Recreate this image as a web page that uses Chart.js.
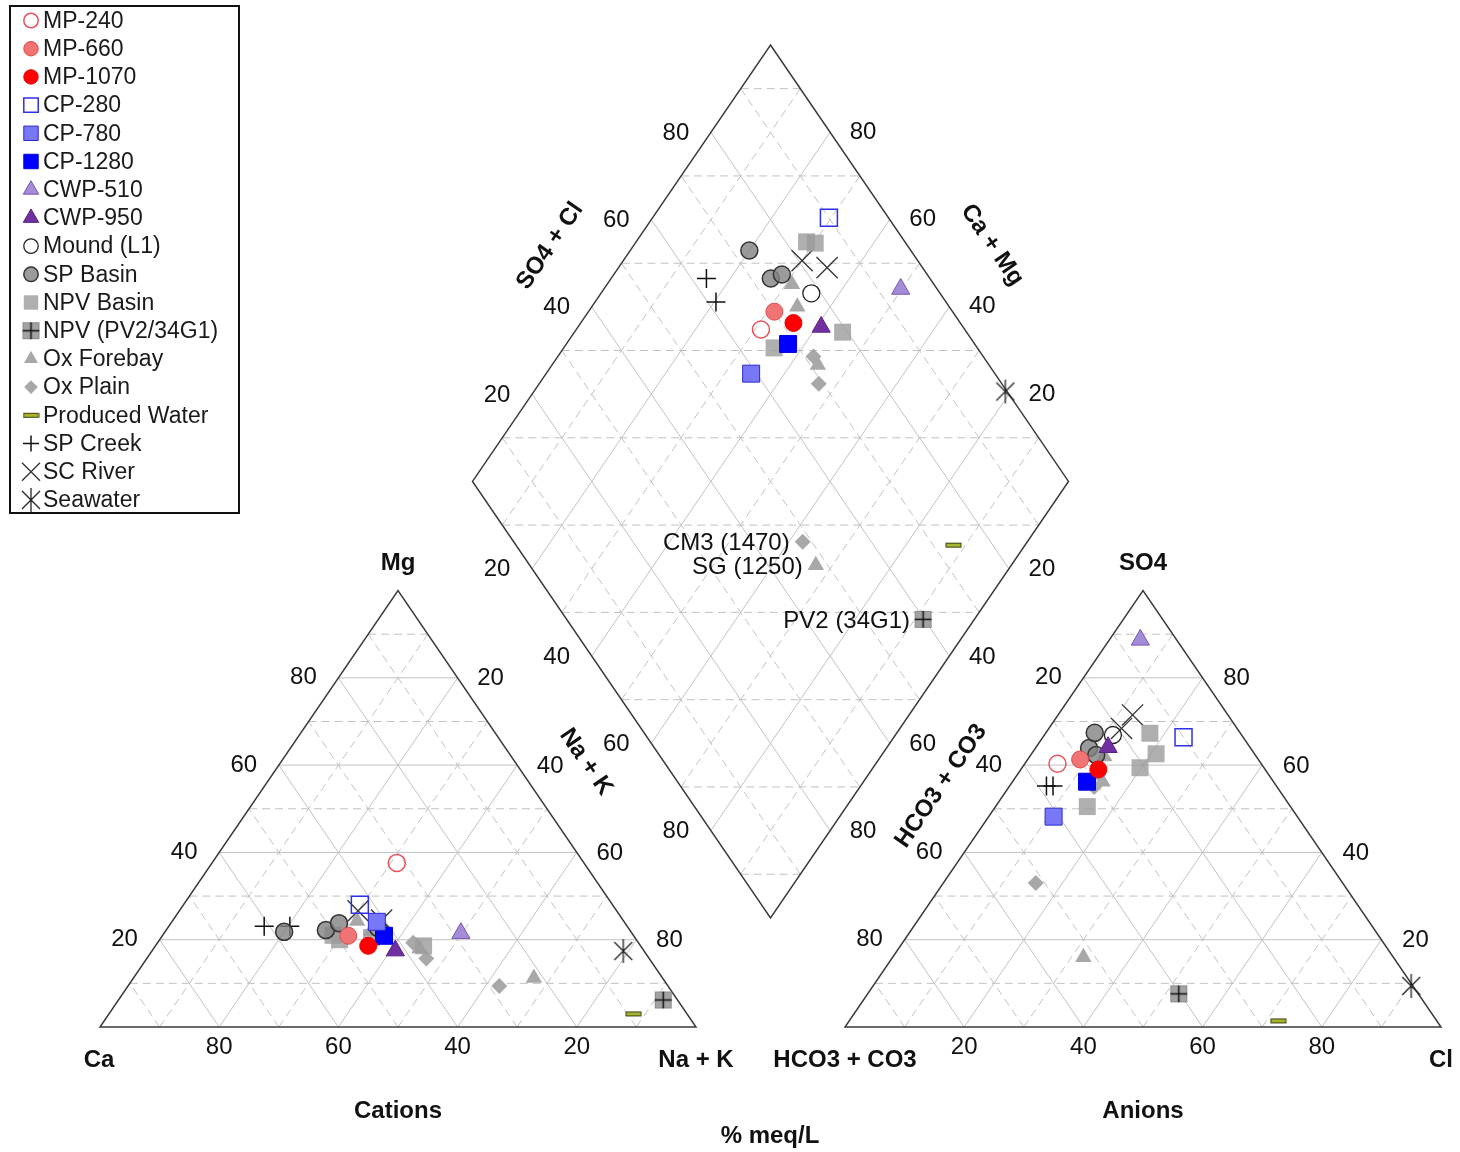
<!DOCTYPE html>
<html>
<head>
<meta charset="utf-8">
<script src="https://cdn.jsdelivr.net/npm/chart.js@4.4.1/dist/chart.umd.min.js"></script>
<style>html,body{margin:0;padding:0;background:#fff}</style>
</head>
<body>
<canvas id="piper" width="1460" height="1152"></canvas>
<script>
// legend order
const seriesNames = ['MP-240', 'MP-660', 'MP-1070', 'CP-280', 'CP-780', 'CP-1280', 'CWP-510', 'CWP-950',
  'Mound (L1)', 'SP Basin', 'NPV Basin', 'NPV (PV2/34G1)', 'Ox Forebay', 'Ox Plain', 'Produced Water',
  'SP Creek', 'SC River', 'Seawater'];

// one entry per sample, % meq/L  (Ca = 100 - Mg - Na+K,  HCO3+CO3 = 100 - SO4 - Cl)
const sampleSeries = ['MP-240', 'MP-660', 'MP-1070', 'CP-280', 'CP-780', 'CP-1280', 'CWP-510', 'CWP-950', 'Mound (L1)',
  'SP Basin', 'SP Basin', 'SP Basin', 'NPV Basin', 'NPV Basin', 'NPV Basin', 'NPV Basin', 'NPV (PV2/34G1)',
  'Ox Forebay', 'Ox Forebay', 'Ox Forebay', 'Ox Forebay', 'Ox Plain', 'Ox Plain', 'Ox Plain', 'Produced Water',
  'SP Creek', 'SP Creek', 'SC River', 'SC River', 'Seawater'];
const sampleMg  = [37.6, 20.9, 18.6, 28.0, 24.1, 20.9, 21.5, 17.5, 22.7, 21.8, 22.2, 23.8, 21.0, 20.0, 20.5, 18.6, 6.2,
  24.3, 22.0, 18.0, 11.2, 19.3, 15.7, 9.4, 3.0, 23.1, 23.1, 26.6, 24.5, 17.4];
const sampleNaK = [31.0, 31.2, 35.7, 29.6, 34.4, 37.2, 49.8, 40.8, 35.3, 20.0, 26.8, 28.2, 28.6, 30.2, 35.3, 45.0, 91.4,
  31.0, 34.5, 44.6, 67.2, 42.9, 46.9, 62.3, 88.0, 16.0, 20.3, 30.0, 35.0, 79.1];
const sampleSO4 = [60.3, 61.3, 59.0, 66.4, 48.2, 56.2, 88.7, 64.1, 66.9, 63.9, 62.3, 67.4, 62.6, 67.3, 50.5, 59.4, 7.6,
  64.0, 62.0, 56.2, 16.0, 58.0, 55.0, 33.0, 1.4, 55.2, 55.2, 68.4, 71.5, 9.4];
const sampleCl  = [5.5, 8.8, 13.0, 23.6, 10.9, 12.5, 5.2, 12.1, 11.5, 9.0, 11.0, 8.2, 20.9, 17.5, 15.4, 19.8, 52.2,
  12.2, 12.5, 15.1, 32.0, 13.5, 14.3, 15.5, 72.0, 7.3, 6.2, 12.2, 12.5, 90.3];
const sampleNote = ['', '', '', '', '', '', '', '', '', '', '', '', '', '', '', '', 'PV2 (34G1)',
  '', '', '', 'SG (1250)', '', '', 'CM3 (1470)', '', '', '', '', '', ''];

const tickValues = [20, 40, 60, 80];

// ---- piper geometry (triangle side = 100, gap between triangles = 25)
const GAP = 25;
const H = Math.sqrt(3) / 2;
const catXY = (mg, nak) => ({ x: nak + mg / 2, y: mg * H });
const anXY = (so4, cl) => ({ x: 100 + GAP + cl + so4 / 2, y: so4 * H });
const diaXY = (nak, hco3) => ({ x: (200 + GAP - hco3 + nak) / 2, y: (200 + GAP - hco3 - nak) * H });
const Y_MAX = (200 + GAP) * H;

const FONT = '"Liberation Sans", Arial, Helvetica, sans-serif';

function icon(w, h, draw) {
  const c = document.createElement('canvas');
  c.width = w; c.height = h;
  draw(c.getContext('2d'));
  return c;
}
const seaIcon = icon(26, 26, g => {
  g.strokeStyle = '#222'; g.lineWidth = 1.3;
  g.beginPath();
  g.moveTo(13, 1); g.lineTo(13, 25);
  g.moveTo(4, 4); g.lineTo(22, 22);
  g.moveTo(22, 4); g.lineTo(4, 22);
  g.stroke();
});
const pv2Icon = icon(19, 19, g => {
  g.fillStyle = '#a3a3a3'; g.fillRect(1, 1, 17, 17);
  g.strokeStyle = '#8c8c8c'; g.lineWidth = 1; g.strokeRect(1.5, 1.5, 16, 16);
  g.strokeStyle = '#111'; g.lineWidth = 1.5;
  g.beginPath(); g.moveTo(9.5, 1); g.lineTo(9.5, 18); g.moveTo(1, 9.5); g.lineTo(18, 9.5); g.stroke();
});
const pwIcon = icon(17, 7, g => {
  g.fillStyle = '#a9b42c'; g.fillRect(1, 1.5, 15, 4);
  g.strokeStyle = '#3d4212'; g.lineWidth = 1; g.strokeRect(1, 1.5, 15, 4);
});

const seriesStyle = {
  'MP-240':         { s: 'circle', r: 8.5, bg: 'rgba(255,255,255,0)', bc: '#e8525c', bw: 1.5 },
  'MP-660':         { s: 'circle', r: 8.5, bg: '#f07474', bc: '#e04a4a', bw: 1 },
  'MP-1070':        { s: 'circle', r: 8.5, bg: '#ff0000', bc: '#e80000', bw: 1 },
  'CP-280':         { s: 'rect', r: 12, bg: 'rgba(255,255,255,0)', bc: '#3030e8', bw: 1.5 },
  'CP-780':         { s: 'rect', r: 12, bg: '#7878f6', bc: '#2a2ad0', bw: 1 },
  'CP-1280':        { s: 'rect', r: 12, bg: '#0000ff', bc: '#0000dd', bw: 1 },
  'CWP-510':        { s: 'triangle', r: 10.5, bg: '#a48cd6', bc: '#7656b6', bw: 1 },
  'CWP-950':        { s: 'triangle', r: 10.5, bg: '#7030a0', bc: '#5a2088', bw: 1 },
  'Mound (L1)':     { s: 'circle', r: 8.5, bg: 'rgba(255,255,255,0)', bc: '#222', bw: 1.3 },
  'SP Basin':       { s: 'circle', r: 8.5, bg: 'rgba(130,130,130,0.8)', bc: '#333', bw: 1.5 },
  'NPV Basin':      { s: 'rect', r: 12, bg: 'rgba(155,155,155,0.8)', bc: 'rgba(0,0,0,0)', bw: 0 },
  'NPV (PV2/34G1)': { s: pv2Icon, r: 9, bg: '#a3a3a3', bc: '#111', bw: 1 },
  'Ox Forebay':     { s: 'triangle', r: 9.5, bg: '#a8a8a8', bc: 'rgba(0,0,0,0)', bw: 0 },
  'Ox Plain':       { s: 'rectRot', r: 8, bg: '#a8a8a8', bc: 'rgba(0,0,0,0)', bw: 0 },
  'Produced Water': { s: pwIcon, r: 8, bg: '#a9b42c', bc: '#3d4212', bw: 1 },
  'SP Creek':       { s: 'cross', r: 9.5, bg: '#111', bc: '#111', bw: 1.5 },
  'SC River':       { s: 'crossRot', r: 15, bg: '#333', bc: '#333', bw: 1.3 },
  'Seawater':       { s: seaIcon, r: 11, bg: '#222', bc: '#222', bw: 1.3 }
};

// each sample is plotted three times: cation triangle, anion triangle, diamond
const datasets = seriesNames.map(name => {
  const st = seriesStyle[name];
  const data = [];
  const notes = [];
  sampleSeries.forEach((sr, i) => {
    if (sr !== name) return;
    const hco3 = 100 - sampleSO4[i] - sampleCl[i];
    data.push(catXY(sampleMg[i], sampleNaK[i]));
    data.push(anXY(sampleSO4[i], sampleCl[i]));
    data.push(diaXY(sampleNaK[i], hco3));
    notes.push(sampleNote[i]);
  });
  return {
    label: name,
    data: data,
    notes: notes,
    pointStyle: st.s,
    pointRadius: st.r,
    pointHoverRadius: st.r,
    pointBackgroundColor: st.bg,
    pointBorderColor: st.bc,
    pointBorderWidth: st.bw,
    showLine: false,
    clip: false
  };
});

const gridPlugin = {
  id: 'piperGrid',
  beforeDatasetsDraw(chart) {
    const { ctx } = chart;
    const sx = chart.scales.x, sy = chart.scales.y;
    const px = p => [sx.getPixelForValue(p.x), sy.getPixelForValue(p.y)];
    const line = (a, b) => {
      const A = px(a), B = px(b);
      ctx.beginPath(); ctx.moveTo(A[0], A[1]); ctx.lineTo(B[0], B[1]); ctx.stroke();
    };
    ctx.save();
    ctx.lineWidth = 1;
    ctx.strokeStyle = '#c2c2c2';
    for (let k = 10; k < 100; k += 10) {
      ctx.setLineDash(k % 20 === 0 ? [] : [8, 5]);
      // triangles
      [catXY, anXY].forEach(f => {
        line(f(k, 0), f(k, 100 - k));          // horizontal
        line(f(0, k), f(100 - k, k));          // parallel to left edge
        line(f(0, 100 - k), f(100 - k, 0));    // parallel to right edge
      });
      // diamond
      line(diaXY(k, 0), diaXY(k, 100));
      line(diaXY(0, k), diaXY(100, k));
    }
    // horizontal dashed lines in the diamond
    ctx.setLineDash([8, 5]);
    for (let s = 10; s < 200; s += 20) {
      const lo = Math.max(0, s - 100), hi = Math.min(100, s);
      line(diaXY(lo, s - lo), diaXY(hi, s - hi));
    }
    ctx.setLineDash([]);
    ctx.strokeStyle = '#3a3a3a';
    ctx.lineWidth = 1.5;
    const poly = pts => {
      ctx.beginPath();
      pts.forEach((p, i) => { const q = px(p); i ? ctx.lineTo(q[0], q[1]) : ctx.moveTo(q[0], q[1]); });
      ctx.closePath(); ctx.stroke();
    };
    poly([catXY(0, 0), catXY(0, 100), catXY(100, 0)]);
    poly([anXY(0, 0), anXY(0, 100), anXY(100, 0)]);
    poly([diaXY(0, 0), diaXY(100, 0), diaXY(100, 100), diaXY(0, 100)]);
    ctx.restore();
  }
};

const textPlugin = {
  id: 'piperText',
  afterDatasetsDraw(chart) {
    const { ctx } = chart;
    const sx = chart.scales.x, sy = chart.scales.y;
    ctx.save();
    ctx.fillStyle = '#111';
    ctx.textAlign = 'center';
    ctx.textBaseline = 'middle';
    ctx.font = '24px ' + FONT;
    const put = (k, p, dx, dy) => ctx.fillText(String(k), sx.getPixelForValue(p.x) + dx, sy.getPixelForValue(p.y) + dy);
    tickValues.forEach(k => {
      put(k, catXY(k, 0), -35, 0);
      put(k, catXY(100 - k, k), 33, 1);
      put(k, catXY(0, 100 - k), 0, 20);
      put(k, anXY(100 - k, 0), -35, 0);
      put(k, anXY(k, 100 - k), 34, 1);
      put(k, anXY(0, k), 0, 20);
      put(k, diaXY(0, 100 - k), -35, 1);
      put(k, diaXY(100 - k, 0), 33, 0);
      put(k, diaXY(k, 100), -35, 1);
      put(k, diaXY(100, k), 33, 1);
    });

    // sample notes in the diamond
    ctx.textAlign = 'right';
    chart.data.datasets.forEach((ds, di) => {
      const meta = chart.getDatasetMeta(di);
      ds.notes.forEach((n, j) => {
        if (!n) return;
        const el = meta.data[j * 3 + 2];
        ctx.fillText(n, el.x - 13, el.y + 2);
      });
    });

    // axis titles
    ctx.textAlign = 'center';
    ctx.font = 'bold 24px ' + FONT;
    [['Mg', 398, 563], ['SO4', 1143, 563], ['Ca', 99, 1060], ['Na + K', 696, 1060],
     ['HCO3 + CO3', 845, 1060], ['Cl', 1441, 1060], ['Cations', 398, 1111], ['Anions', 1143, 1111],
     ['% meq/L', 770, 1136]].forEach(([t, x, y]) => ctx.fillText(t, x, y));
    const ang = Math.atan2(436, 298);
    [['SO4 + Cl', 550, 246, -ang], ['Ca + Mg', 992, 245, ang], ['Na + K', 586, 762, ang],
     ['HCO3 + CO3', 941, 786, -ang]].forEach(([t, x, y, a]) => {
      ctx.save(); ctx.translate(x, y); ctx.rotate(a); ctx.fillText(t, 0, 0); ctx.restore();
    });
    ctx.restore();
  }
};

const legendPlugin = {
  id: 'piperLegend',
  afterDraw(chart) {
    const { ctx } = chart;
    ctx.save();
    ctx.fillStyle = '#fff';
    ctx.fillRect(10, 6, 229, 507);
    ctx.strokeStyle = '#111';
    ctx.lineWidth = 2;
    ctx.strokeRect(10, 6, 229, 507);
    ctx.font = '23px ' + FONT;
    ctx.textBaseline = 'middle';
    ctx.textAlign = 'left';
    chart.data.datasets.forEach((ds, i) => {
      const y = 20.5 + i * 28.2;
      ctx.save();
      ctx.fillStyle = ds.pointBackgroundColor;
      ctx.strokeStyle = ds.pointBorderColor;
      ctx.lineWidth = ds.pointBorderWidth;
      const big = typeof ds.pointStyle === 'string';
      Chart.helpers.drawPoint(ctx, {
        pointStyle: ds.pointStyle,
        radius: big ? ds.pointRadius * 0.85 : ds.pointRadius,
        rotation: 0,
        borderWidth: ds.pointBorderWidth
      }, 31, y);
      ctx.restore();
      ctx.fillStyle = '#1a1a1a';
      ctx.fillText(ds.label, 43, y + 1);
    });
    ctx.restore();
  }
};

new Chart(document.getElementById('piper'), {
  type: 'scatter',
  data: { datasets: datasets },
  options: {
    responsive: false,
    animation: false,
    devicePixelRatio: 1,
    events: [],
    layout: { padding: { left: 100, right: 19, top: 45, bottom: 125 } },
    scales: {
      x: { type: 'linear', min: 0, max: 200 + GAP, display: false },
      y: { type: 'linear', min: 0, max: Y_MAX, display: false }
    },
    plugins: { legend: { display: false }, tooltip: { enabled: false } }
  },
  plugins: [gridPlugin, textPlugin, legendPlugin]
});
</script>
</body>
</html>
